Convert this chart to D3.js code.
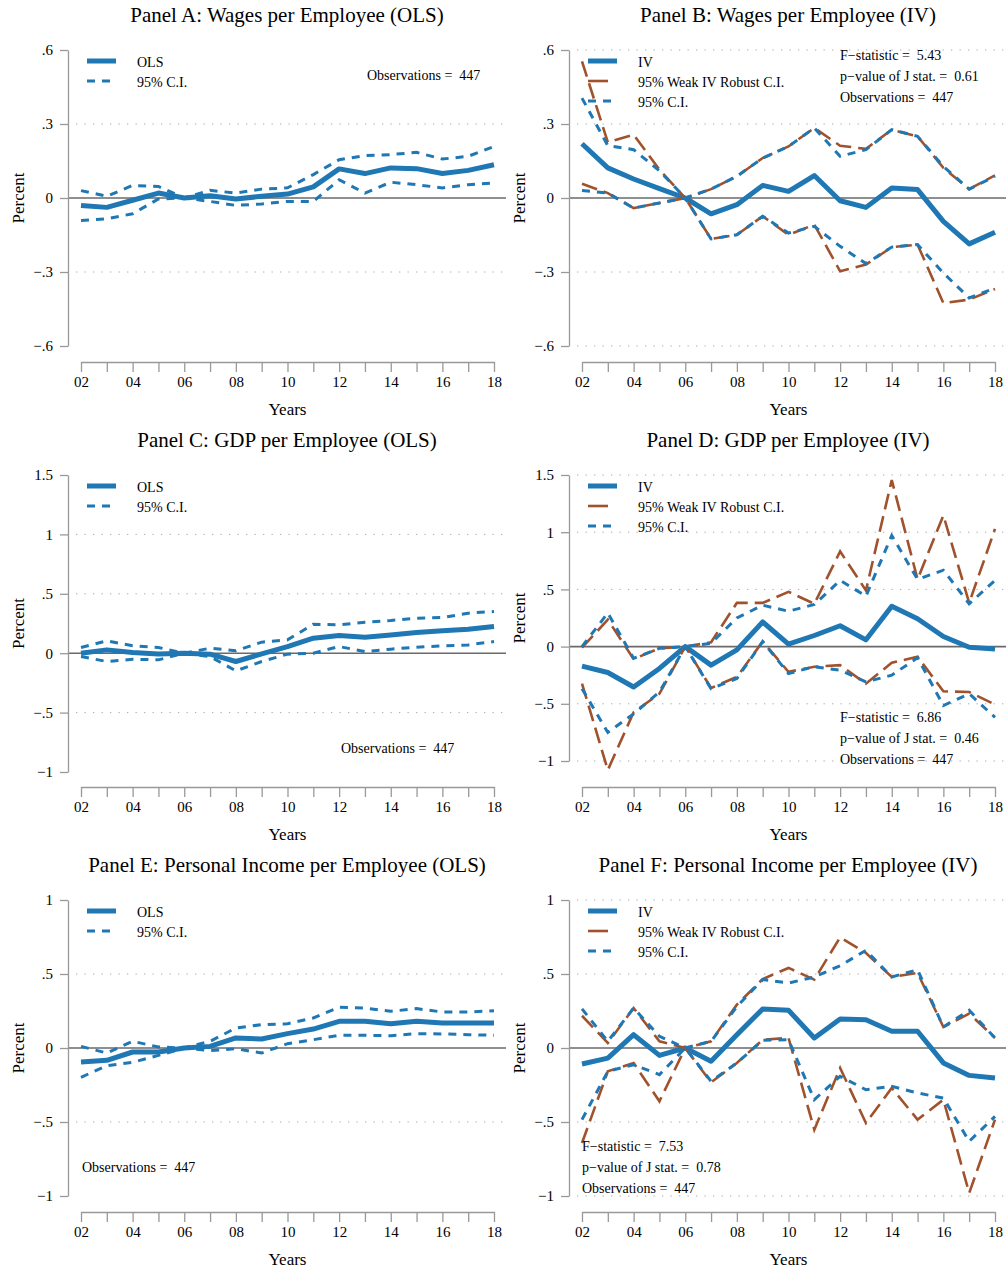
<!DOCTYPE html>
<html>
<head>
<meta charset="utf-8">
<script src="https://cdn.jsdelivr.net/npm/d3@7"></script>
<style>
body { margin: 0; background: #fff; }
text { font-family: "Liberation Serif", "Times New Roman", serif; fill: #000; white-space: pre; }
</style>
</head>
<body>
<script>
/* event-study panels: OLS vs IV */
var years = [2002, 2003, 2004, 2005, 2006, 2007, 2008, 2009, 2010, 2011, 2012, 2013, 2014, 2015, 2016, 2017, 2018];
var xTickLabels = ["02", "04", "06", "08", "10", "12", "14", "16", "18"];

var ticksWages = [0.6, 0.3, 0, -0.3, -0.6];
var ticksWagesLabels = [".6", ".3", "0", "\u2212.3", "\u2212.6"];
var ticksGdp = [1.5, 1, 0.5, 0, -0.5, -1];
var ticksGdpLabels = ["1.5", "1", ".5", "0", "\u2212.5", "\u22121"];
var ticksInc = [1, 0.5, 0, -0.5, -1];
var ticksIncLabels = ["1", ".5", "0", "\u2212.5", "\u22121"];

// Panel A
var wagesOls   = [-0.030, -0.038, -0.009, 0.020, 0, 0.009, -0.004, 0.007, 0.016, 0.045, 0.118, 0.099, 0.122, 0.119, 0.099, 0.112, 0.135];
var wagesOlsHi = [0.030, 0.007, 0.051, 0.047, 0, 0.031, 0.020, 0.036, 0.041, 0.095, 0.155, 0.172, 0.176, 0.185, 0.158, 0.169, 0.209];
var wagesOlsLo = [-0.091, -0.084, -0.064, -0.004, 0, -0.014, -0.030, -0.024, -0.014, -0.014, 0.074, 0.020, 0.064, 0.054, 0.041, 0.054, 0.061];
// Panel B
var wagesIv       = [0.220, 0.122, 0.077, 0.038, 0, -0.064, -0.027, 0.051, 0.027, 0.091, -0.011, -0.038, 0.041, 0.034, -0.095, -0.186, -0.139];
var wagesIvHi     = [0.405, 0.212, 0.196, 0.110, 0, 0.036, 0.088, 0.162, 0.209, 0.284, 0.169, 0.196, 0.277, 0.250, 0.128, 0.036, 0.088];
var wagesIvLo     = [0.030, 0.020, -0.041, -0.020, 0, -0.166, -0.149, -0.074, -0.142, -0.115, -0.196, -0.266, -0.199, -0.189, -0.304, -0.405, -0.365];
var wagesIvWeakHi = [0.554, 0.226, 0.257, 0.115, 0, 0.036, 0.088, 0.162, 0.209, 0.284, 0.212, 0.199, 0.277, 0.250, 0.122, 0.036, 0.092];
var wagesIvWeakLo = [0.058, 0.020, -0.041, -0.020, 0, -0.166, -0.149, -0.074, -0.149, -0.108, -0.297, -0.270, -0.199, -0.189, -0.426, -0.412, -0.369];
// Panel C
var gdpOls   = [0, 0.028, 0.006, -0.006, 0, -0.008, -0.070, -0.006, 0.056, 0.126, 0.149, 0.135, 0.154, 0.174, 0.188, 0.202, 0.225];
var gdpOlsHi = [0.048, 0.104, 0.062, 0.048, 0, 0.042, 0.020, 0.093, 0.112, 0.244, 0.239, 0.261, 0.275, 0.295, 0.300, 0.337, 0.351];
var gdpOlsLo = [-0.028, -0.070, -0.051, -0.056, 0, -0.028, -0.149, -0.070, -0.008, 0, 0.056, 0.014, 0.034, 0.051, 0.062, 0.070, 0.098];
// Panel D
var gdpIv       = [-0.171, -0.226, -0.353, -0.191, 0, -0.162, -0.029, 0.215, 0.021, 0.097, 0.182, 0.059, 0.353, 0.244, 0.088, -0.006, -0.021];
var gdpIvHi     = [0, 0.294, -0.103, -0.015, 0, 0.029, 0.250, 0.362, 0.309, 0.368, 0.579, 0.441, 0.971, 0.588, 0.668, 0.374, 0.579];
var gdpIvLo     = [-0.368, -0.750, -0.588, -0.397, 0, -0.368, -0.279, 0.044, -0.235, -0.176, -0.206, -0.309, -0.250, -0.097, -0.515, -0.412, -0.618];
var gdpIvWeakHi = [-0.009, 0.235, -0.109, -0.015, 0, 0.038, 0.382, 0.382, 0.479, 0.374, 0.832, 0.491, 1.456, 0.588, 1.147, 0.382, 1.029];
var gdpIvWeakLo = [-0.324, -1.079, -0.574, -0.412, 0, -0.362, -0.265, 0.044, -0.221, -0.176, -0.162, -0.324, -0.141, -0.088, -0.391, -0.397, -0.506];
// Panel E
var incOls   = [-0.095, -0.083, -0.027, -0.027, 0, 0.011, 0.068, 0.061, 0.097, 0.128, 0.180, 0.180, 0.164, 0.180, 0.169, 0.169, 0.169];
var incOlsHi = [0.011, -0.034, 0.045, 0.007, 0, 0.045, 0.135, 0.158, 0.164, 0.203, 0.275, 0.270, 0.248, 0.266, 0.243, 0.243, 0.252];
var incOlsLo = [-0.198, -0.119, -0.097, -0.050, 0, -0.018, -0.005, -0.034, 0.029, 0.056, 0.086, 0.086, 0.083, 0.097, 0.095, 0.090, 0.086];
// Panel F
var incIv       = [-0.108, -0.068, 0.090, -0.050, 0, -0.090, 0.090, 0.264, 0.255, 0.068, 0.196, 0.191, 0.113, 0.113, -0.101, -0.185, -0.203];
var incIvHi     = [0.264, 0.045, 0.270, 0.079, 0, 0.045, 0.280, 0.462, 0.439, 0.480, 0.556, 0.660, 0.480, 0.529, 0.142, 0.255, 0.068];
var incIvLo     = [-0.484, -0.158, -0.113, -0.180, 0, -0.225, -0.101, 0.052, 0.056, -0.349, -0.191, -0.282, -0.259, -0.304, -0.338, -0.631, -0.462];
var incIvWeakHi = [0.218, 0.034, 0.270, 0.045, 0, 0.045, 0.293, 0.466, 0.541, 0.462, 0.748, 0.642, 0.480, 0.507, 0.142, 0.232, 0.068];
var incIvWeakLo = [-0.642, -0.158, -0.101, -0.360, 0, -0.232, -0.101, 0.056, 0.068, -0.552, -0.135, -0.507, -0.270, -0.484, -0.349, -0.980, -0.484];

var blue = "#1f77b4", brown = "#a0522d";

var panels = [
  { title: "Panel A: Wages per Employee (OLS)", col: 0, row: 0, ticks: ticksWages, tickLabels: ticksWagesLabels, yBottom: 346, iv: false,
    main: wagesOls, hi: wagesOlsHi, lo: wagesOlsLo,
    stats: ["Observations =  447"], statsX: 367, statsY: 75 },
  { title: "Panel B: Wages per Employee (IV)", col: 1, row: 0, ticks: ticksWages, tickLabels: ticksWagesLabels, yBottom: 346, iv: true,
    main: wagesIv, hi: wagesIvHi, lo: wagesIvLo, whi: wagesIvWeakHi, wlo: wagesIvWeakLo,
    stats: ["F\u2212statistic =  5.43", "p\u2212value of J stat. =  0.61", "Observations =  447"], statsX: 840, statsY: 55 },
  { title: "Panel C: GDP per Employee (OLS)", col: 0, row: 1, ticks: ticksGdp, tickLabels: ticksGdpLabels, yBottom: 347, iv: false,
    main: gdpOls, hi: gdpOlsHi, lo: gdpOlsLo,
    stats: ["Observations =  447"], statsX: 341, statsY: 323 },
  { title: "Panel D: GDP per Employee (IV)", col: 1, row: 1, ticks: ticksGdp, tickLabels: ticksGdpLabels, yBottom: 336, iv: true,
    main: gdpIv, hi: gdpIvHi, lo: gdpIvLo, whi: gdpIvWeakHi, wlo: gdpIvWeakLo,
    stats: ["F\u2212statistic =  6.86", "p\u2212value of J stat. =  0.46", "Observations =  447"], statsX: 840, statsY: 292 },
  { title: "Panel E: Personal Income per Employee (OLS)", col: 0, row: 2, ticks: ticksInc, tickLabels: ticksIncLabels, yBottom: 346, iv: false,
    main: incOls, hi: incOlsHi, lo: incOlsLo,
    stats: ["Observations =  447"], statsX: 82, statsY: 317 },
  { title: "Panel F: Personal Income per Employee (IV)", col: 1, row: 2, ticks: ticksInc, tickLabels: ticksIncLabels, yBottom: 346, iv: true,
    main: incIv, hi: incIvHi, lo: incIvLo, whi: incIvWeakHi, wlo: incIvWeakLo,
    stats: ["F\u2212statistic =  7.53", "p\u2212value of J stat. =  0.78", "Observations =  447"], statsX: 582, statsY: 296 }
];

var svg = d3.select("body").append("svg")
    .attr("width", 1006)
    .attr("height", 1268);

panels.forEach(function(p) {
    var ax = p.col == 0 ? 68 : 569;
    var right = p.col == 0 ? 506 : 1006;
    var g = svg.append("g").attr("transform", "translate(0," + (p.row * 425) + ")");

    var x = d3.scaleLinear().domain([2002, 2018]).range([ax + 13, ax + 426]);
    var y = d3.scaleLinear()
        .domain([p.ticks[p.ticks.length - 1], p.ticks[0]])
        .range([p.yBottom, 50]);

    // title
    g.append("text")
        .attr("x", ax + 219).attr("y", 22)
        .attr("text-anchor", "middle")
        .style("font-size", "21px")
        .text(p.title);

    // grid lines (OLS panels skip the outer ones)
    var grid = p.ticks.filter(function(d, i) {
        if (d === 0) return false;
        if (!p.iv && (i == 0 || i == p.ticks.length - 1)) return false;
        return true;
    });
    g.selectAll(".grid").data(grid).enter().append("line")
        .attr("x1", ax + 8).attr("x2", right)
        .attr("y1", function(d) { return y(d); })
        .attr("y2", function(d) { return y(d); })
        .style("stroke", "#aaa").style("stroke-width", 1)
        .style("stroke-dasharray", "1.3,7.2");

    // zero line
    g.append("line")
        .attr("x1", ax).attr("x2", right)
        .attr("y1", y(0)).attr("y2", y(0))
        .style("stroke", "#6a6a6a").style("stroke-width", 1.6);

    // y axis
    var yAxis = g.append("g").attr("transform", "translate(" + ax + ",0)")
        .call(d3.axisLeft(y).tickValues(p.ticks).tickSize(8).tickSizeOuter(0).tickPadding(7)
            .tickFormat(function(d, i) { return p.tickLabels[i]; }));
    yAxis.select(".domain").style("stroke", "#999").style("stroke-width", 1.3);
    yAxis.selectAll(".tick line").style("stroke", "#999").style("stroke-width", 1.3);
    yAxis.selectAll(".tick text").style("font-size", "15px").style("font-family", "Liberation Serif").attr("fill", "#000");

    // x axis
    var xAxis = g.append("g").attr("transform", "translate(0,362)")
        .call(d3.axisBottom(x).tickValues(years).tickSize(10).tickSizeOuter(0).tickPadding(4)
            .tickFormat(function(d, i) { return i % 2 == 0 ? xTickLabels[i / 2] : ""; }));
    xAxis.select(".domain").style("stroke", "#999").style("stroke-width", 1.3);
    xAxis.selectAll(".tick line").style("stroke", "#999").style("stroke-width", 1.3);
    xAxis.selectAll(".tick text").style("font-size", "15px").style("font-family", "Liberation Serif").attr("fill", "#000");

    // axis titles
    g.append("text")
        .attr("x", ax + 219.5).attr("y", 409)
        .attr("text-anchor", "middle").attr("dominant-baseline", "central")
        .style("font-size", "17px").text("Years");
    g.append("text")
        .attr("transform", "translate(" + (ax - 50) + "," + ((50 + p.yBottom) / 2) + ") rotate(-90)")
        .attr("text-anchor", "middle").attr("dominant-baseline", "central")
        .style("font-size", "17px").text("Percent");

    var line = d3.line()
        .x(function(d, i) { return x(years[i]); })
        .y(function(d) { return y(d); });

    // main estimate
    g.append("path").datum(p.main).attr("d", line)
        .style("fill", "none").style("stroke", blue).style("stroke-width", 5)
        .style("stroke-linejoin", "round");

    if (p.iv) {
        [p.whi, p.wlo].forEach(function(s) {
            g.append("path").datum(s).attr("d", line)
                .style("fill", "none").style("stroke", brown).style("stroke-width", 2.6)
                .style("stroke-dasharray", "16,7");
        });
    }
    [p.hi, p.lo].forEach(function(s) {
        g.append("path").datum(s).attr("d", line)
            .style("fill", "none").style("stroke", blue).style("stroke-width", 3)
            .style("stroke-dasharray", "8,7");
    });

    // legend
    var lx = ax + 19;
    var items = [{ label: p.iv ? "IV" : "OLS", w: 5, dash: null, c: blue }];
    if (p.iv) items.push({ label: "95% Weak IV Robust C.I.", w: 2.6, dash: "20,10", c: brown });
    items.push({ label: "95% C.I.", w: 3, dash: "8,7", c: blue });
    items.forEach(function(it, i) {
        var ly = 61 + i * 20;
        g.append("line")
            .attr("x1", lx).attr("x2", lx + 29)
            .attr("y1", ly).attr("y2", ly)
            .style("stroke", it.c).style("stroke-width", it.w)
            .style("stroke-dasharray", it.dash);
        g.append("text")
            .attr("x", lx + 50).attr("y", ly + 1)
            .attr("dominant-baseline", "central")
            .style("font-size", "14px").text(it.label);
    });

    // stats text
    p.stats.forEach(function(s, i) {
        g.append("text")
            .attr("x", p.statsX).attr("y", p.statsY + i * 21)
            .attr("dominant-baseline", "central")
            .style("font-size", "14px").text(s);
    });
});
</script>
</body>
</html>
